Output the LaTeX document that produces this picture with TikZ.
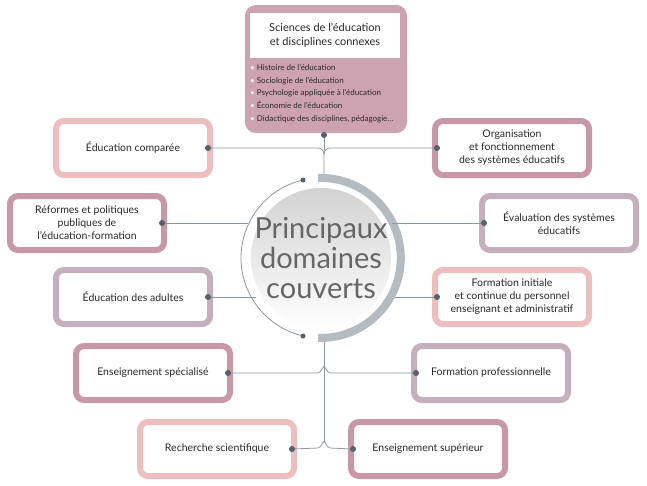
\documentclass[tikz,border=0pt]{standalone}
\usepackage{fontspec}
\setmainfont{Lato}
\usetikzlibrary{positioning,calc}

\definecolor{rosec}{HTML}{EDBDC0}
\definecolor{mauve}{HTML}{C998A8}
\definecolor{grismauve}{HTML}{C4B0BC}
\definecolor{topfond}{HTML}{CDA2B1}
\definecolor{trait}{HTML}{8E979E}
\definecolor{point}{HTML}{56616B}
\definecolor{arcgris}{HTML}{B4BCC2}
\definecolor{texte}{HTML}{2A2A2A}

\tikzset{
  domaine/.style={draw=#1, line width=6pt, rounded corners=8pt, fill=white,
    minimum width=154pt, minimum height=54pt, align=center, text=texte,
    font=\fontsize{10.5}{13}\selectfont},
  lien/.style={draw=trait, line width=0.8pt},
  pt/.style={circle, fill=point, inner sep=0pt, minimum size=6pt}
}

\begin{document}
\begin{tikzpicture}[x=1pt,y=-1pt]
  \useasboundingbox (0,0) rectangle (647,485);

  % bloc du haut
  \node (sci) [draw=topfond, fill=topfond, line width=6pt, rounded corners=8pt,
    minimum width=156pt, minimum height=122pt] at (326,69) {};
  \node (scititre) [fill=white, minimum width=150pt, minimum height=45pt, align=center,
    text=texte, font=\fontsize{11}{14}\selectfont] at (325,35)
    {Sciences de l’éducation\\et disciplines connexes};
  \node (scilist) [anchor=north west, align=left, text=texte, inner sep=0pt,
    font=\fontsize{8}{12.8}\selectfont] at (250,64)
    {\textcolor{white}{•} Histoire de l’éducation\\
     \textcolor{white}{•} Sociologie de l’éducation\\
     \textcolor{white}{•} Psychologie appliquée à l’éducation\\
     \textcolor{white}{•} Économie de l’éducation\\
     \textcolor{white}{•} Didactique des disciplines, pédagogie…};

  % cercle central
  \shade[top color=gray!35, bottom color=white] (321,258) circle (70);
  \draw[draw=arcgris, line width=8pt] (318,178) arc[start angle=-92, end angle=92, radius=80];
  \draw[lien] (303,180) arc[start angle=-103, end angle=-257, radius=80];
  \node (centre) [align=center, text=gray!80!black, font=\fontsize{29}{30}\selectfont]
    at (321,258) {Principaux\\domaines\\couverts};
  \node[pt, minimum size=5pt] at (303,180) {};
  \node[pt, minimum size=5pt] at (303,336) {};

  % domaines de gauche
  \node (comp) [domaine=rosec] at (133,148) {Éducation comparée};
  \node (reform) [domaine=mauve] at (87,223) {Réformes et politiques\\publiques de\\l’éducation-formation};
  \node (adultes) [domaine=grismauve] at (133,297) {Éducation des adultes};
  \node (special) [domaine=mauve] at (153,373) {Enseignement spécialisé};
  \node (recherche) [domaine=rosec] at (217,449) {Recherche scientifique};

  % domaines de droite
  \node (organ) [domaine=mauve] at (512,148) {Organisation\\et fonctionnement\\des systèmes éducatifs};
  \node (eval) [domaine=grismauve] at (559,223) {Évaluation des systèmes\\éducatifs};
  \node (formi) [domaine=rosec] at (512,297) {Formation initiale\\et continue du personnel\\enseignant et administratif};
  \node (formp) [domaine=grismauve] at (491,373) {Formation professionnelle};
  \node (sup) [domaine=mauve] at (428,449) {Enseignement supérieur};

  % points d'attache
  \coordinate (pcomp) at ($(comp.east)+(-5,0)$);
  \coordinate (preform) at ($(reform.east)+(-5,0)$);
  \coordinate (padultes) at ($(adultes.east)+(-5,0)$);
  \coordinate (pspecial) at ($(special.east)+(-5,0)$);
  \coordinate (precherche) at ($(recherche.east)+(-5,0)$);
  \coordinate (porgan) at ($(organ.west)+(5,0)$);
  \coordinate (peval) at ($(eval.west)+(5,0)$);
  \coordinate (pformi) at ($(formi.west)+(5,0)$);
  \coordinate (pformp) at ($(formp.west)+(5,0)$);
  \coordinate (psup) at ($(sup.west)+(5,0)$);
  \coordinate (psci) at (324,135);

  % liens
  \draw[lien] (psci) -- (324,154);
  \draw[lien] (pcomp) -- (318,148) to[out=0,in=90] (324,154) -- (324,174);
  \draw[lien] (porgan) -- (330,148) to[out=180,in=90] (324,154);
  \draw[lien] (preform) -- (248,223);
  \draw[lien] (peval) -- (392,223);
  \draw[lien] (padultes) -- (256,297);
  \draw[lien] (pformi) -- (395,297);
  \draw[lien] (324,342) -- (324,442);
  \draw[lien] (pspecial) -- (318,373) to[out=0,in=90] (324,367);
  \draw[lien] (pformp) -- (330,373) to[out=180,in=90] (324,367);
  \draw[lien] (precherche) -- (318,448) to[out=0,in=90] (324,442);
  \draw[lien] (psup) -- (330,448) to[out=180,in=90] (324,442);

  \foreach \p in {psci,pcomp,preform,padultes,pspecial,precherche,porgan,peval,pformi,pformp,psup}
    \node[pt] at (\p) {};
\end{tikzpicture}
\end{document}
